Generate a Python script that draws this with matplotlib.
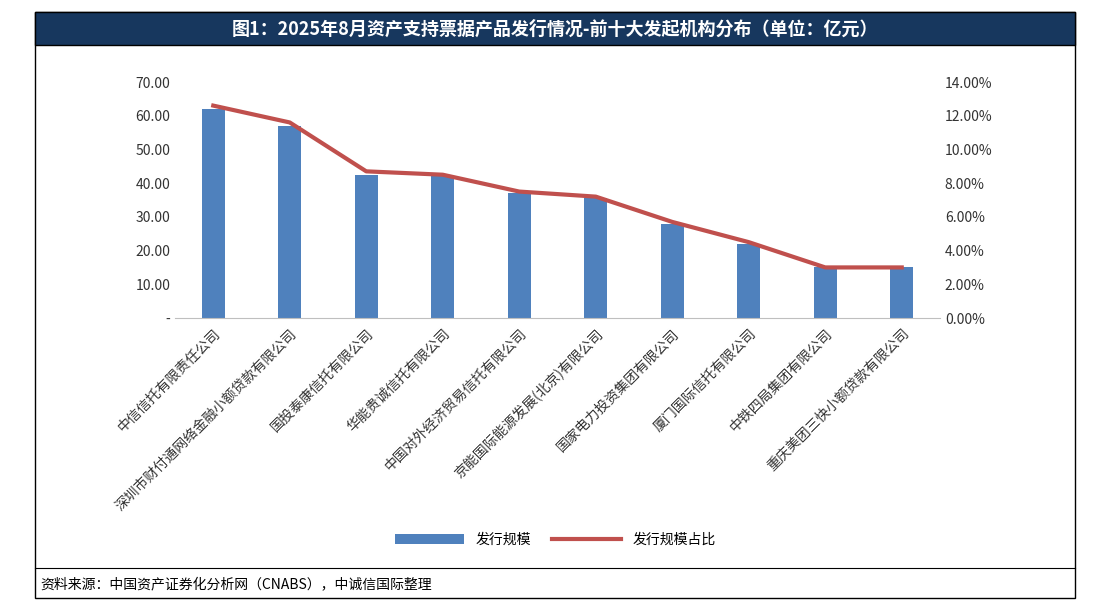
import matplotlib.pyplot as plt
from matplotlib.patches import Rectangle
from matplotlib.lines import Line2D
from matplotlib.ticker import FuncFormatter

plt.rcParams['font.family'] = ['Noto Sans CJK SC', 'DejaVu Sans']

companies = ["中信信托有限责任公司", "深圳市财付通网络金融小额贷款有限公司", "国投泰康信托有限公司",
             "华能贵诚信托有限公司", "中国对外经济贸易信托有限公司", "京能国际能源发展(北京)有限公司",
             "国家电力投资集团有限公司", "厦门国际信托有限公司", "中铁四局集团有限公司",
             "重庆美团三快小额贷款有限公司"]
amount = [62.0, 57.0, 42.5, 42.0, 37.0, 35.5, 28.0, 22.0, 15.0, 15.0]
share = [12.6, 11.6, 8.7, 8.5, 7.5, 7.2, 5.7, 4.5, 3.0, 3.0]

fig = plt.figure(figsize=(11.1, 6.1), dpi=100)

# frame and title band
fig.patches.append(Rectangle((35/1110, 12/610), 1040/1110, 586/610, transform=fig.transFigure,
                             fill=False, edgecolor='black', lw=1))
fig.patches.append(Rectangle((35/1110, 565/610), 1040/1110, 33/610, transform=fig.transFigure,
                             facecolor='#17375E', edgecolor='black', lw=1))
fig.text(0.5, 581/610, "图1：2025年8月资产支持票据产品发行情况-前十大发起机构分布（单位：亿元）",
         color='white', fontsize=13, fontweight='bold', ha='center', va='center')
fig.lines.append(Line2D([35/1110, 1075/1110], [42/610, 42/610], transform=fig.transFigure,
                        color='black', lw=0.8))
fig.text(40/1110, 25/610, "资料来源：中国资产证券化分析网（CNABS），中诚信国际整理",
         fontsize=10, style='italic', va='center')

ax = fig.add_axes([175/1110, 292/610, 765/1110, 236/610])
x = range(len(companies))
bars = ax.bar(x, amount, width=0.3, color='#4F81BD', label='发行规模')
ax.set_ylim(0, 70)
ax.set_yticks(range(0, 71, 10))
ax.yaxis.set_major_formatter(FuncFormatter(lambda v, p: '-' if v == 0 else f'{v:.2f}'))
ax.set_xlim(-0.5, len(companies) - 0.5)
ax.set_xticks(list(x))
ax.set_xticklabels(companies, rotation=45, ha='right', rotation_mode='anchor', fontsize=10)
for s in ['top', 'right', 'left']:
    ax.spines[s].set_visible(False)
ax.spines['bottom'].set_color('#BFBFBF')
ax.tick_params(length=0, labelsize=10, colors='#333333')
ax.tick_params(axis='x', pad=6)

ax2 = ax.twinx()
line, = ax2.plot(x, share, color='#C0504D', lw=3, label='发行规模占比')
ax2.set_ylim(0, 14)
ax2.set_yticks(range(0, 15, 2))
ax2.yaxis.set_major_formatter(FuncFormatter(lambda v, p: f'{v:.2f}%'))
for s in ax2.spines.values():
    s.set_visible(False)
ax2.tick_params(length=0, labelsize=10, colors='#333333')

fig.legend([bars, line], ['发行规模', '发行规模占比'], loc='center', bbox_to_anchor=(0.5, 70/610),
           ncol=2, frameon=False, fontsize=10, handlelength=5, columnspacing=1.5)

fig.savefig('out.png')
